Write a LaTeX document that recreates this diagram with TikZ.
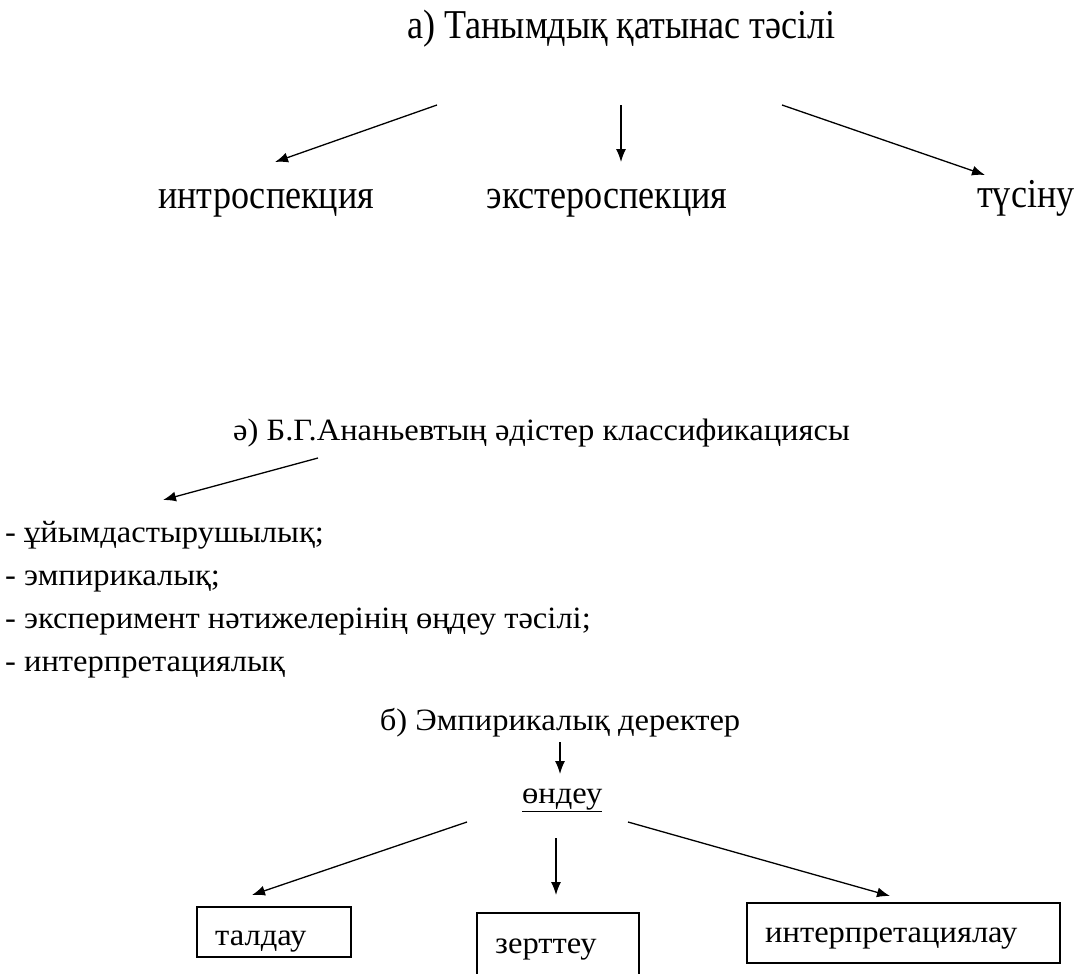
\documentclass[tikz,border=0pt]{standalone}
\usepackage{fontspec}
\setmainfont{Liberation Serif}
\newfontfamily\bigfont[FakeStretch=0.88]{Liberation Serif}
\newfontfamily\smallfont[FakeStretch=1.05]{Liberation Serif}
\usetikzlibrary{arrows.meta}

\tikzset{
  arr/.style={-{Latex[length=13pt,width=10pt]}, line width=1.3pt},
  big/.style={inner sep=0pt, font=\bigfont\fontsize{41}{45}\selectfont},
  small/.style={inner sep=0pt, font=\smallfont\fontsize{31}{43}\selectfont},
  boxed/.style={draw, line width=1.6pt, inner sep=0pt},
}

\begin{document}
\begin{tikzpicture}[x=1pt,y=-1pt]
  \useasboundingbox (0,0) rectangle (1076,974);

  % а) part
  \node[big, anchor=base west] (ta) at (407,39) {а) Танымдық қатынас тәсілі};
  \node[big, anchor=base west] (intro) at (158,208) {интроспекция};
  \node[big, anchor=base] (extero) at (607,208) {экстероспекция};
  \node[big, anchor=base west] (tusinu) at (977,207) {түсіну};
  \coordinate (ta1) at (437,105);
  \coordinate (ta2) at (621,105);
  \coordinate (ta3) at (782,105);
  \coordinate (intro1) at (275,162);
  \coordinate (extero1) at (621,162);
  \coordinate (tusinu1) at (985,175);
  \draw[arr] (ta1) -- (intro1);
  \draw[arr] (ta2) -- (extero1);
  \draw[arr] (ta3) -- (tusinu1);

  % ә) part
  \node[small, anchor=base west] (tb) at (233,440) {ә) Б.Г.Ананьевтың әдістер классификациясы};
  \node[small, anchor=base west] (l1) at (5,542) {- ұйымдастырушылық;};
  \node[small, anchor=base west] (l2) at (5,585) {- эмпирикалық;};
  \node[small, anchor=base west] (l3) at (5,628) {- эксперимент нәтижелерінің өңдеу тәсілі;};
  \node[small, anchor=base west] (l4) at (5,671) {- интерпретациялық};
  \coordinate (tb1) at (318,458);
  \coordinate (l0) at (163,500);
  \draw[arr] (tb1) -- (l0);

  % б) part
  \node[small, anchor=base] (tc) at (560,730) {б) Эмпирикалық деректер};
  \node[small, anchor=base west] (ondeu) at (522,803) {\underline{өндеу}};
  \coordinate (tc1) at (560,742);
  \coordinate (tc2) at (560,774);
  \draw[arr] (tc1) -- (tc2);

  \node[boxed, minimum width=154pt, minimum height=50pt] (taldau) at (274,932) {};
  \node[boxed, minimum width=162pt, minimum height=72pt] (zertteu) at (558,949) {};
  \node[boxed, minimum width=313pt, minimum height=60pt] (interp) at (903.5,933) {};
  \node[small, anchor=base west] (taldaut) at (215,945) {талдау};
  \node[small, anchor=base west] (zertteut) at (495,953) {зерттеу};
  \node[small, anchor=base west] (interpt) at (765,942) {интерпретациялау};
  \coordinate (on1) at (467,822);
  \coordinate (on2) at (556,838);
  \coordinate (on3) at (628,822);
  \coordinate (taldau1) at (252,895);
  \coordinate (zertteu1) at (556,895);
  \coordinate (interp1) at (890,896);
  \draw[arr] (on1) -- (taldau1);
  \draw[arr] (on2) -- (zertteu1);
  \draw[arr] (on3) -- (interp1);
\end{tikzpicture}
\end{document}
